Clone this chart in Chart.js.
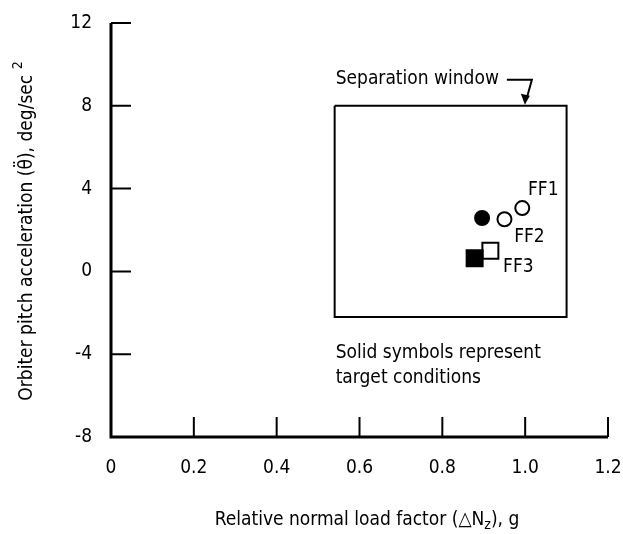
<!DOCTYPE html>
<html>
<head>
<meta charset="utf-8">
<script src="https://cdn.jsdelivr.net/npm/chart.js@4.4.1/dist/chart.umd.min.js"></script>
<style>
  html, body { margin: 0; padding: 0; background: #fff; }
  canvas { display: block; }
</style>
</head>
<body>
<canvas id="separationChart" width="623" height="534"></canvas>
<script>
// flight-test points (open symbols)
const flightNames = ['FF1', 'FF2', 'FF3']
const flightX = [0.993, 0.95, 0.916]
const flightY = [3.06, 2.52, 1.0]
const flightStyle = ['circle', 'circle', 'rect']

// target conditions (solid symbols)
const targetX = [0.896, 0.878]
const targetY = [2.58, 0.63]
const targetStyle = ['circle', 'rect']

// separation window corners
const windowX = [0.54, 1.1, 1.1, 0.54, 0.54]
const windowY = [8, 8, -2.2, -2.2, 8]

const xTickLabels = ['0', '0.2', '0.4', '0.6', '0.8', '1.0', '1.2']
const yTickLabels = ['-8', '-4', '0', '4', '8', '12']

const FONT = '"Liberation Sans Narrow", "DejaVu Sans Condensed", sans-serif'

const init = () => {
    const ctx = document.getElementById('separationChart')

    const toPoints = (xs, ys) => xs.map((x, i) => ({x, y: ys[i]}))
    const sizeFor = (style) => style === 'rect' ? 11.3 : 7

    // draws a run of [text, 'sup'|'sub'|null] pieces centred on 0,0
    const drawRich = (c, parts, size) => {
        const small = Math.round(size * 0.75)
        let total = 0
        parts.forEach(([t, kind]) => {
            c.font = (kind ? small : size) + 'px ' + FONT
            total += c.measureText(t).width
        })
        let x = -total / 2
        parts.forEach(([t, kind]) => {
            c.font = (kind ? small : size) + 'px ' + FONT
            let dy = 0
            if (kind === 'sup') dy = -size * 0.45
            if (kind === 'sub') dy = size * 0.3
            c.fillText(t, x, dy)
            x += c.measureText(t).width
        })
    }

    const decorations = {
        id: 'decorations',
        beforeDraw(chart) {
            const c = chart.ctx
            c.save()
            c.fillStyle = '#fff'
            c.fillRect(0, 0, chart.width, chart.height)
            c.restore()
        },
        afterDraw(chart) {
            const c = chart.ctx
            const xs = chart.scales.x
            const ys = chart.scales.y
            const area = chart.chartArea
            c.save()
            c.strokeStyle = '#000'
            c.fillStyle = '#000'

            // axis lines
            c.lineWidth = 3
            c.beginPath()
            c.moveTo(area.left, area.top)
            c.lineTo(area.left, area.bottom)
            c.lineTo(area.right, area.bottom)
            c.stroke()

            // inward ticks
            c.lineWidth = 2
            c.beginPath()
            xs.ticks.forEach((t, i) => {
                if (i === 0) return
                const px = xs.getPixelForValue(t.value)
                c.moveTo(px, area.bottom)
                c.lineTo(px, area.bottom - 20)
            })
            ys.ticks.forEach((t, i) => {
                if (i === 0) return
                const py = ys.getPixelForValue(t.value)
                c.moveTo(area.left, py)
                c.lineTo(area.left + 20, py)
            })
            c.stroke()

            c.textBaseline = 'middle'

            // point labels
            const offsets = [[21, -18], [25, 18], [28, 16]]
            c.font = '19px ' + FONT
            c.textAlign = 'center'
            flightNames.forEach((name, i) => {
                const px = xs.getPixelForValue(flightX[i]) + offsets[i][0]
                const py = ys.getPixelForValue(flightY[i]) + offsets[i][1]
                c.fillText(name, px, py)
            })

            // separation window label with arrow
            const boxLeft = xs.getPixelForValue(windowX[0])
            const boxTop = ys.getPixelForValue(windowY[0])
            const boxBottom = ys.getPixelForValue(windowY[2])
            c.textAlign = 'left'
            c.font = '19px ' + FONT
            c.fillText('Separation window', boxLeft + 1, boxTop - 27)
            const textEnd = boxLeft + 1 + c.measureText('Separation window').width
            const ay = boxTop - 26
            c.lineWidth = 2
            c.beginPath()
            c.moveTo(textEnd + 8, ay)
            c.lineTo(textEnd + 33, ay)
            c.lineTo(textEnd + 28, boxTop - 8)
            c.stroke()
            c.beginPath()
            c.moveTo(textEnd + 26, boxTop - 1)
            c.lineTo(textEnd + 22, boxTop - 12)
            c.lineTo(textEnd + 31, boxTop - 10)
            c.closePath()
            c.fill()

            c.fillText('Solid symbols represent', boxLeft + 1, boxBottom + 36)
            c.fillText('target conditions', boxLeft + 1, boxBottom + 61)

            // axis titles
            c.save()
            c.translate(367, 520)
            drawRich(c, [['Relative normal load factor (\u25B3N', null], ['z', 'sub'], ['), g', null]], 19)
            c.restore()

            c.save()
            c.translate(27, 231)
            c.rotate(-Math.PI / 2)
            drawRich(c, [['Orbiter pitch acceleration (\u03B8\u0308), deg/sec ', null], ['2', 'sup']], 19)
            c.restore()

            c.restore()
        }
    }

    new Chart(ctx, {
        type: 'scatter',
        data: {
            datasets: [
                {
                    label: 'Target conditions',
                    data: toPoints(targetX, targetY),
                    pointStyle: targetStyle,
                    pointRadius: targetStyle.map(sizeFor),
                    backgroundColor: '#000',
                    borderColor: '#000',
                    borderWidth: 2,
                },
                {
                    label: 'Flights',
                    data: toPoints(flightX, flightY),
                    pointStyle: flightStyle,
                    pointRadius: flightStyle.map(sizeFor),
                    backgroundColor: '#fff',
                    borderColor: '#000',
                    borderWidth: 2,
                },
                {
                    label: 'Separation window',
                    data: toPoints(windowX, windowY),
                    showLine: true,
                    pointRadius: 0,
                    borderColor: '#000',
                    borderWidth: 2,
                    fill: false,
                }
            ]
        },
        options: {
            responsive: false,
            animation: false,
            events: [],
            layout: {
                padding: {top: 23, right: 15, left: 0, bottom: 0}
            },
            plugins: {
                legend: {display: false},
                tooltip: {enabled: false}
            },
            scales: {
                x: {
                    type: 'linear',
                    min: 0,
                    max: 1.2,
                    grid: {display: false, drawTicks: false},
                    border: {display: false},
                    ticks: {
                        stepSize: 0.2,
                        padding: 20,
                        color: '#000',
                        font: {family: FONT, size: 19},
                        maxRotation: 0,
                        callback: (value, index) => xTickLabels[index]
                    },
                    afterFit: (scale) => {
                        scale.height = 97
                        scale.paddingLeft = 0
                        scale.paddingRight = 0
                    }
                },
                y: {
                    type: 'linear',
                    min: -8,
                    max: 12,
                    grid: {display: false, drawTicks: false},
                    border: {display: false},
                    ticks: {
                        stepSize: 4,
                        padding: 19,
                        color: '#000',
                        font: {family: FONT, size: 19},
                        callback: (value, index) => yTickLabels[index]
                    },
                    afterFit: (scale) => {
                        scale.width = 111
                        scale.paddingTop = 0
                        scale.paddingBottom = 0
                    }
                }
            }
        },
        plugins: [decorations]
    })
}

document.addEventListener('DOMContentLoaded', init)
</script>
</body>
</html>
